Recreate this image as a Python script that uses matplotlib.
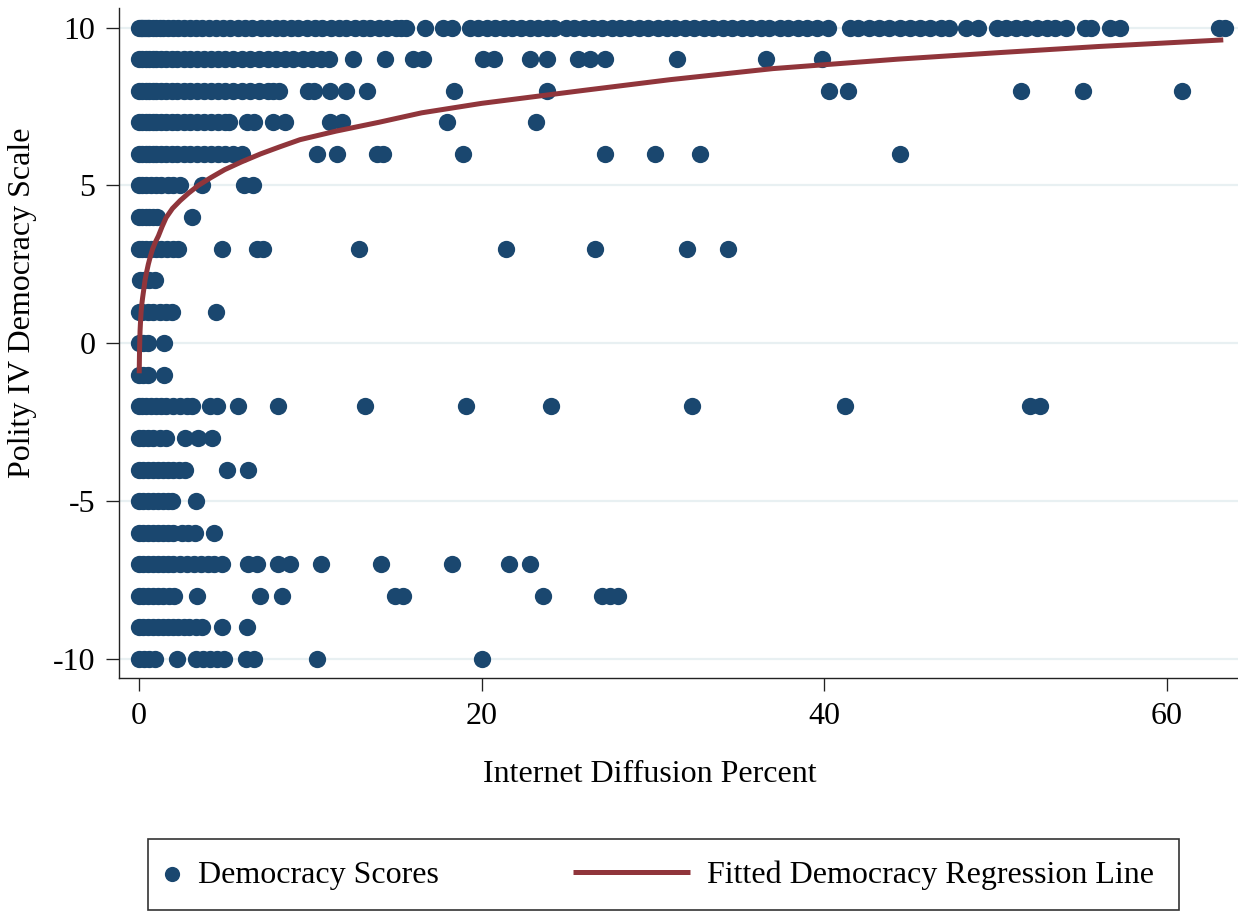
import matplotlib
matplotlib.use("Agg")
import matplotlib.pyplot as plt
from matplotlib.patches import Rectangle
import numpy as np

plt.rcParams['font.family'] = ['Liberation Serif', 'DejaVu Serif']
plt.rcParams['axes.unicode_minus'] = False

# internet diffusion (%) for each polity score level
x_p10 = [0.0, 0.1, 0.2, 0.3, 0.4, 0.5, 0.6, 0.8, 1.0, 1.2, 1.4, 1.7, 2.0, 2.3, 2.6, 3.0, 3.3, 3.7,
         4.1, 4.5, 4.9, 5.3, 5.8, 6.2, 6.6, 7.1, 7.5, 8.0, 8.4, 8.9, 9.3, 9.8, 10.3, 10.7, 11.2,
         11.7, 12.1, 12.6, 13.1, 13.5, 14.0, 14.5, 15.0, 15.3, 15.6, 16.7, 17.75, 18.25, 19.3,
         19.8, 20.3, 20.8, 21.3, 21.8, 22.3, 22.8, 23.3, 23.8, 24.2, 24.9, 25.4, 26.0, 26.5, 27.0,
         27.6, 28.1, 28.6, 29.2, 29.7, 30.3, 30.8, 31.3, 31.9, 32.4, 33.0, 33.5, 34.1, 34.6, 35.2,
         35.7, 36.3, 36.8, 37.4, 37.9, 38.5, 39.0, 39.6, 40.2, 41.5, 42.0, 42.6, 43.2, 43.8, 44.4,
         45.0, 45.6, 46.2, 46.8, 47.3, 48.3, 49.0, 50.1, 50.6, 51.2, 51.8, 52.4, 53.0, 53.5, 54.1,
         55.2, 55.6, 56.7, 57.3, 63.05, 63.4]
x_p9 = [0.0, 0.2, 0.4, 0.6, 0.8, 1.0, 1.3, 1.6, 1.9, 2.2, 2.6, 3.0, 3.4, 3.8, 4.2, 4.6, 5.0, 5.5,
        6.0, 6.5, 7.0, 7.5, 8.0, 8.5, 9.0, 9.6, 10.1, 10.6, 11.1, 12.5, 14.35, 16.0, 16.6, 20.1,
        20.7, 22.8, 23.8, 25.6, 26.3, 27.2, 31.4, 36.6, 39.9]
x_p8 = [0.0, 0.2, 0.4, 0.6, 0.8, 1.0, 1.3, 1.6, 1.9, 2.2, 2.6, 3.0, 3.4, 3.8, 4.2, 4.6, 5.0, 5.5,
        6.0, 6.5, 7.0, 7.5, 7.8, 8.2, 9.87, 10.2, 11.15, 12.1, 13.3, 18.4, 23.8, 40.3, 41.4,
        51.5, 55.1, 60.9]
x_p7 = [0.0, 0.2, 0.4, 0.6, 0.8, 1.0, 1.3, 1.6, 1.9, 2.2, 2.6, 3.0, 3.4, 3.8, 4.2, 4.6, 5.0,
        5.25, 6.3, 6.7, 7.8, 8.5, 11.15, 11.85, 18.0, 23.2]
x_p6 = [0.0, 0.2, 0.4, 0.6, 0.8, 1.0, 1.3, 1.6, 1.9, 2.2, 2.6, 3.0, 3.4, 3.8, 4.2, 4.6, 5.0, 5.5,
        6.0, 10.4, 11.55, 13.9, 14.25, 18.9, 27.2, 30.1, 32.75, 44.4]
x_p5 = [0.0, 0.2, 0.4, 0.7, 1.0, 1.3, 1.7, 2.0, 2.4, 3.7, 6.1, 6.65]
x_p4 = [0.0, 0.2, 0.4, 0.6, 0.8, 1.05, 3.1]
x_p3 = [0.0, 0.2, 0.4, 0.7, 1.0, 1.3, 1.65, 2.0, 2.3, 4.85, 6.9, 7.25, 12.85, 21.45, 26.6,
        32.0, 34.4]
x_p2 = [0.05, 0.3, 0.6, 0.95]
x_p1 = [0.0, 0.2, 0.5, 0.8, 1.2, 1.55, 1.95, 4.5]
x_0 = [0.0, 0.25, 0.5, 1.45]
x_m1 = [0.0, 0.25, 0.5, 1.45]
x_m2 = [0.0, 0.2, 0.4, 0.7, 1.0, 1.3, 1.6, 2.0, 2.4, 2.8, 3.1, 4.15, 4.55, 5.8, 8.1, 13.2,
        19.1, 24.05, 32.3, 41.2, 52.0, 52.6]
x_m3 = [0.0, 0.25, 0.5, 0.8, 1.2, 1.6, 2.7, 3.45, 4.25]
x_m4 = [0.0, 0.25, 0.5, 0.8, 1.1, 1.4, 1.7, 2.0, 2.35, 2.7, 5.15, 6.35]
x_m5 = [0.0, 0.25, 0.5, 0.8, 1.1, 1.4, 1.7, 1.95, 3.35]
x_m6 = [0.0, 0.25, 0.5, 0.8, 1.1, 1.4, 1.7, 2.0, 2.5, 2.85, 3.25, 4.4]
x_m7 = [0.0, 0.25, 0.5, 0.8, 1.1, 1.4, 1.7, 2.0, 2.4, 2.8, 3.2, 3.6, 4.0, 4.4, 4.85, 6.35, 6.9,
        8.1, 8.8, 10.6, 14.1, 18.25, 21.6, 22.8]
x_m8 = [0.0, 0.25, 0.5, 0.8, 1.1, 1.4, 1.75, 2.05, 3.4, 7.05, 8.35, 14.95, 15.4, 23.6, 27.0,
        27.5, 27.95]
x_m9 = [0.0, 0.25, 0.5, 0.8, 1.1, 1.4, 1.7, 2.0, 2.3, 2.6, 2.9, 3.3, 3.7, 4.85, 6.3]
x_m10 = [0.0, 0.3, 0.6, 0.95, 2.2, 3.3, 3.75, 4.15, 4.55, 4.95, 6.25, 6.7, 10.4, 20.0]

levels = [10, 9, 8, 7, 6, 5, 4, 3, 2, 1, 0, -1, -2, -3, -4, -5, -6, -7, -8, -9, -10]
xs_by_level = [x_p10, x_p9, x_p8, x_p7, x_p6, x_p5, x_p4, x_p3, x_p2, x_p1, x_0,
               x_m1, x_m2, x_m3, x_m4, x_m5, x_m6, x_m7, x_m8, x_m9, x_m10]

# fitted regression line
fit_x = [0.01, 0.02, 0.03, 0.045, 0.06, 0.09, 0.12, 0.16, 0.21, 0.28, 0.35, 0.44, 0.54, 0.66,
         0.8, 0.95, 1.13, 1.35, 1.58, 1.95, 2.4, 2.9, 3.46, 4.2, 5.0, 6.0, 7.1, 8.2, 9.4, 11.5,
         14.0, 16.5, 20.0, 25.8, 31.0, 37.0, 44.3, 50.0, 56.0, 63.3]
fit_y = [-0.95, -0.55, -0.2, 0.12, 0.4, 0.72, 1.0, 1.23, 1.45, 1.72, 2.0, 2.25, 2.5, 2.75,
         3.0, 3.2, 3.4, 3.7, 3.98, 4.27, 4.52, 4.76, 5.0, 5.25, 5.5, 5.75, 6.0, 6.22, 6.45, 6.72,
         7.0, 7.3, 7.6, 8.0, 8.35, 8.7, 9.0, 9.2, 9.4, 9.61]

xs = np.concatenate([np.array(v, dtype=float) for v in xs_by_level])
ys = np.concatenate([np.full(len(v), lv, dtype=float) for v, lv in zip(xs_by_level, levels)])

navy = '#1a476f'
maroon = '#90353b'
fs = 23

fig = plt.figure(figsize=(12.38, 9.11), dpi=100)
ax = fig.add_axes([119 / 1238, 1 - 678 / 911, 1 - 119 / 1238, (678 - 8) / 911])

ax.set_xlim(-1.17, 64.16)
ax.set_ylim(-10.6, 10.62)

ax.set_yticks([-10, -5, 0, 5, 10])
ax.set_xticks([0, 20, 40, 60])
ax.grid(axis='y', color='#e8f0f2', linewidth=1.6, zorder=0)
ax.set_axisbelow(True)

sc = ax.scatter(xs, ys, s=155, color=navy, linewidths=0, zorder=2)
ln, = ax.plot(fit_x, fit_y, color=maroon, linewidth=3.6, solid_capstyle='butt',
              solid_joinstyle='round', zorder=3)

for side in ['top', 'right']:
    ax.spines[side].set_visible(False)
for side in ['left', 'bottom']:
    ax.spines[side].set_color('#222222')
    ax.spines[side].set_linewidth(1.0)
ax.tick_params(axis='both', length=9.4, width=0.95, color='#222222', labelsize=fs)
ax.tick_params(axis='y', pad=7.5)
ax.tick_params(axis='x', pad=8)

ax.set_ylabel('Polity IV Democracy Scale', fontsize=fs)
ax.yaxis.set_label_coords(-0.073, (678 - 303) / 670)
ax.set_xlabel('Internet Diffusion Percent', fontsize=fs)
ax.xaxis.set_label_coords((650 - 119) / 1119, -0.122)

# legend box at the bottom, drawn as two frameless legends inside one frame
fig.legend(handles=[sc], labels=['Democracy Scores'], loc='center left',
           bbox_to_anchor=(162.5 / 1238, 1 - 875 / 911), frameon=False, handlelength=0.6,
           handletextpad=0.5, borderpad=0, borderaxespad=0, fontsize=fs, markerscale=0.88)
fig.legend(handles=[ln], labels=['Fitted Democracy Regression Line'], loc='center left',
           bbox_to_anchor=(573 / 1238, 1 - 875 / 911), frameon=False, handlelength=3.65,
           handletextpad=0.55, borderpad=0, borderaxespad=0, fontsize=fs)
fig.add_artist(Rectangle((148 / 1238, 1 / 911), (1179 - 148) / 1238, 71 / 911,
                         transform=fig.transFigure, fill=False, edgecolor='#333333',
                         linewidth=1.2))

fig.savefig('out.png', dpi=100)
